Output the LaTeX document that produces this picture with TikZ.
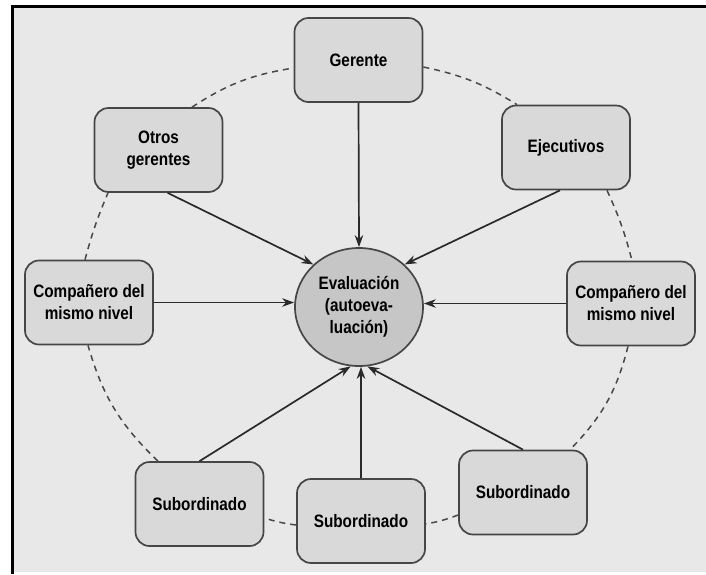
\documentclass[tikz,border=0pt]{standalone}
\usepackage{fontspec}
\setmainfont[FakeStretch=0.85]{Liberation Sans}
\usetikzlibrary{arrows.meta,calc,shapes.geometric}

\definecolor{pagebg}{HTML}{E8E8E8}
\definecolor{boxfill}{HTML}{D9D9D9}
\definecolor{ovalfill}{HTML}{C6C6C6}
\definecolor{edgecol}{HTML}{464646}
\definecolor{linkcol}{HTML}{2A2A2A}
\definecolor{ringcol}{HTML}{484848}

\tikzset{
  rolebox/.style={draw=edgecol, line width=1.7pt, fill=boxfill,
    rounded corners=14pt, minimum width=128pt, minimum height=84pt,
    inner sep=2pt, align=center, text=black,
    font=\bfseries\fontsize{18}{22}\selectfont},
  evalnode/.style={ellipse, draw=edgecol, line width=1.7pt, fill=ovalfill,
    minimum width=128pt, minimum height=118pt, inner sep=0pt,
    align=center, text=black, font=\bfseries\fontsize{18}{22}\selectfont},
  feed/.style={draw=linkcol, line width=1.7pt,
    -{Stealth[length=12pt,width=8.5pt]}},
  ring/.style={draw=ringcol, line width=1.5pt, dash pattern=on 6pt off 5pt}
}

\begin{document}
\begin{tikzpicture}[x=1pt,y=-1pt]
  \useasboundingbox (0,0) rectangle (706,574);
  % page and frame
  \fill[white] (0,0) rectangle (706,574);
  \fill[pagebg] (12.5,6.5) rectangle (706,572);
  \draw[black, line width=3pt] (12.5,574) -- (12.5,6.5) -- (706,6.5);

  % nodes
  \node[evalnode] (ev) at (359,307) {Evaluación\\(autoeva-\\luación)};
  \node[rolebox] (ge) at (358.5,60) {Gerente};
  \node[rolebox] (og) at (158.5,150) {Otros\\gerentes};
  \node[rolebox] (ej) at (566,147.5) {Ejecutivos};
  \node[rolebox] (cl) at (89,302.5) {Compañero del\\mismo nivel};
  \node[rolebox] (cr) at (631,303.5) {Compañero del\\mismo nivel};
  \node[rolebox] (sl) at (199.5,504) {Subordinado};
  \node[rolebox] (sm) at (361,521) {Subordinado};
  \node[rolebox] (sr) at (523,492.5) {Subordinado};

  % dashed ring linking the neighbours
  \draw[ring] ($(og.north)+(33.5,0)$) to[bend left=12] ($(ge.west)+(0,8)$);
  \draw[ring] ($(ge.east)+(0,7)$) to[bend left=10] ($(ej.north)+(-49,0)$);
  \draw[ring] ($(ej.south)+(41,0)$) to[bend left=5] ($(cr.north)+(1,0)$);
  \draw[ring] ($(cr.south)+(-3,0)$) to[bend left=15] ($(sr.north)+(47,0)$);
  \draw[ring] ($(sr.west)+(0,22.5)$) to[bend left=5] ($(sm.east)+(0,3)$);
  \draw[ring] ($(sm.west)+(0,4)$) to[bend left=5] ($(sl.east)+(0,14)$);
  \draw[ring] ($(sl.north)+(-41.5,0)$) to[bend left=15] ($(cl.south)+(-1,0)$);
  \draw[ring] ($(cl.north)+(-4,0)$) to[bend left=4] ($(og.south)+(-50.5,0)$);

  % feedback arrows into the evaluation
  \draw[feed] (ge.south) -- (ev.north);
  \draw[feed] (og.-78) -- (ev.137);
  \draw[feed] (ej.-98) -- (ev.43);
  \draw[feed] (cl.east) -- (cl.east -| ev.west);
  \draw[feed] (cr.west) -- (cr.west -| ev.east);
  \draw[feed] (sl.north) -- (ev.262);
  \draw[feed] (sm.north) -- (sm.north |- ev.south);
  \draw[feed] (sr.north) -- (ev.278);
\end{tikzpicture}
\end{document}
